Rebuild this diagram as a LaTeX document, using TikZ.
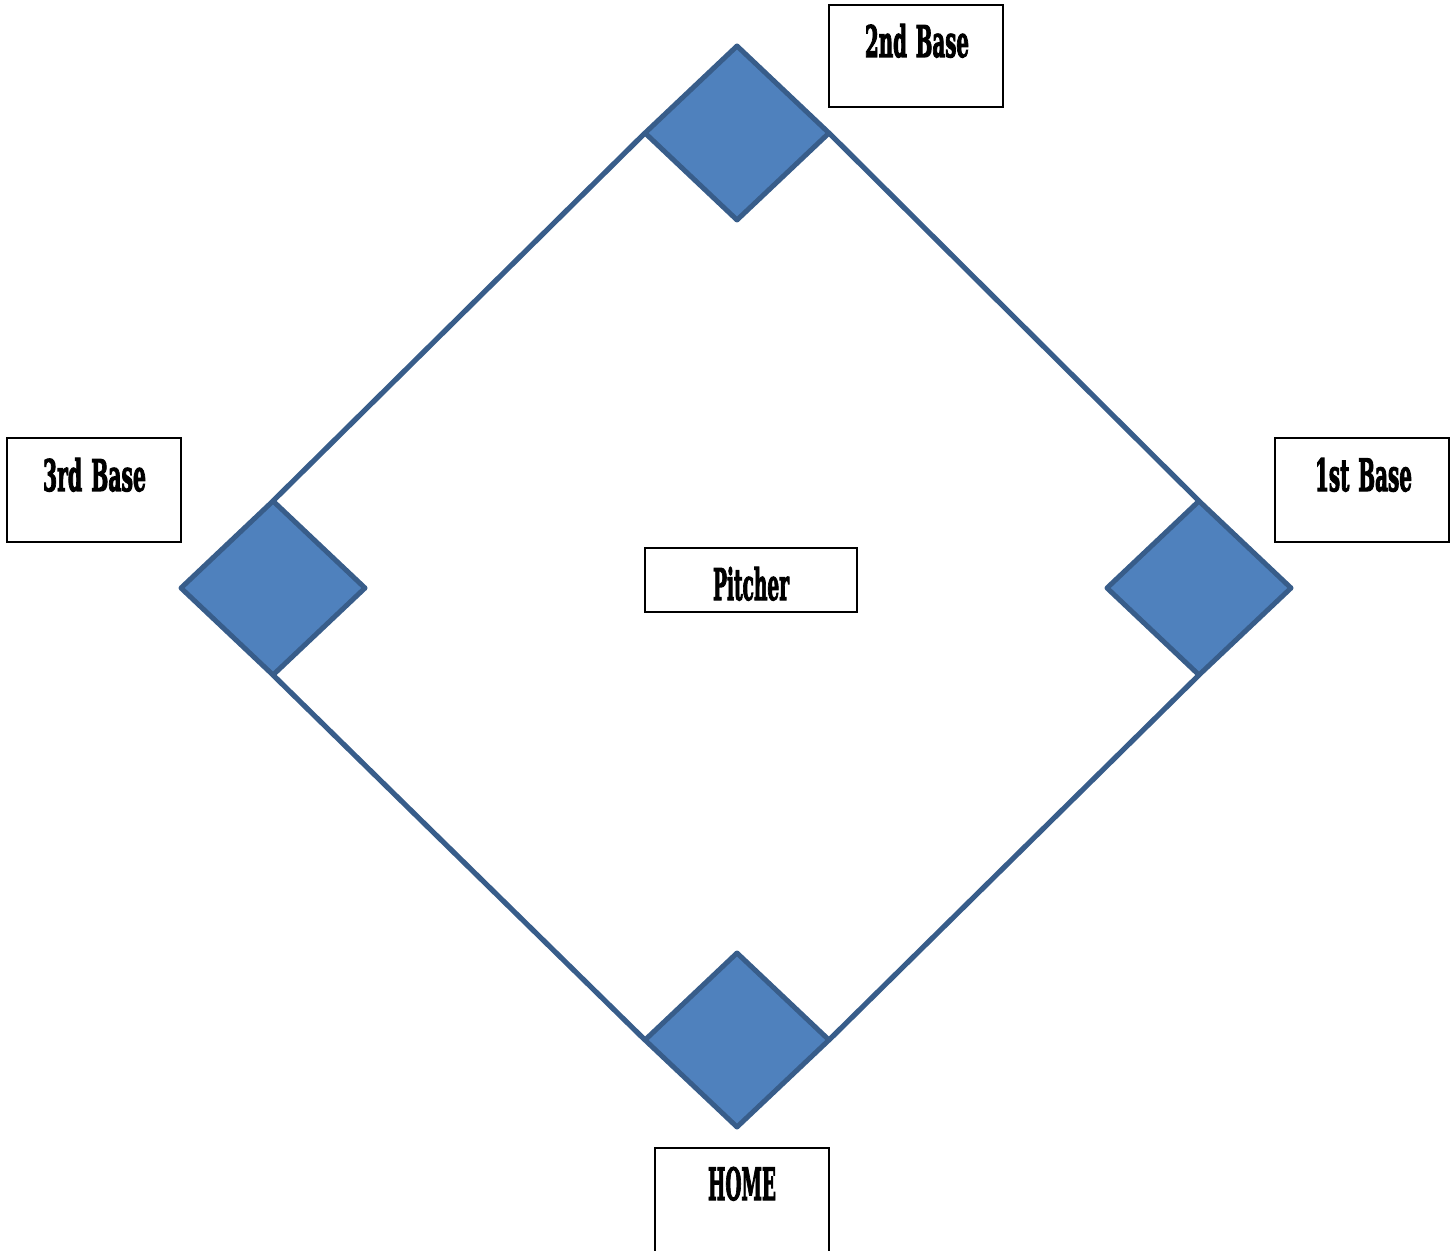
\documentclass[tikz,border=0pt]{standalone}
\usepackage{fontspec}
\usetikzlibrary{shapes.geometric}
\newfontfamily\woodfont[FakeBold=3]{DejaVu Serif Condensed Bold}
\definecolor{basefill}{HTML}{4F81BD}
\definecolor{baseline}{HTML}{385D8A}
\newcommand{\woodtext}[2]{\resizebox{#1}{16.5pt}{\woodfont #2}}
\begin{document}
\begin{tikzpicture}[x=0.5pt,y=-0.5pt,
  basebox/.style={diamond,draw=baseline,fill=basefill,line width=2.5pt,
    minimum width=92pt,minimum height=87pt,inner sep=0pt,outer sep=0pt,line join=round},
  labelbox/.style={draw=black,line width=1pt,inner sep=0pt,outer sep=0pt},
  labeltext/.style={inner sep=0pt,outer sep=0pt,anchor=base},
  baseline path/.style={draw=baseline,line width=2.6pt}]
\useasboundingbox (0,0) rectangle (1456,1251);
% bases
\node[basebox] (second) at (737,133) {};
\node[basebox] (third) at (273,588) {};
\node[basebox] (first) at (1199,588) {};
\node[basebox] (home) at (737,1040) {};
% connectors
\draw[baseline path] (second.west) -- (third.north);
\draw[baseline path] (second.east) -- (first.north);
\draw[baseline path] (third.south) -- (home.west);
\draw[baseline path] (first.south) -- (home.east);
% label boxes
\begin{scope}
\clip (0,0) rectangle (1456,1251);
\draw[labelbox] (829,5) rectangle (1003,107);
\draw[labelbox] (7,438) rectangle (181,542);
\draw[labelbox] (1275,438) rectangle (1449,542);
\draw[labelbox] (645,548) rectangle (857,612);
\draw[labelbox] (655,1148) rectangle (829,1270);
\end{scope}
\node[labeltext] (t2) at (917,57) {\woodtext{52pt}{2nd\hspace{0.4em}Base}};
\node[labeltext] (t3) at (94.5,491) {\woodtext{51.5pt}{3rd\hspace{0.4em}Base}};
\node[labeltext] (t1) at (1363.5,491) {\woodtext{48.5pt}{1st\hspace{0.4em}Base}};
\node[labeltext] (tp) at (751,600) {\woodtext{38pt}{Pitcher}};
\node[labeltext] (th) at (742,1200) {\woodtext{34pt}{HOME}};
\end{tikzpicture}
\end{document}
